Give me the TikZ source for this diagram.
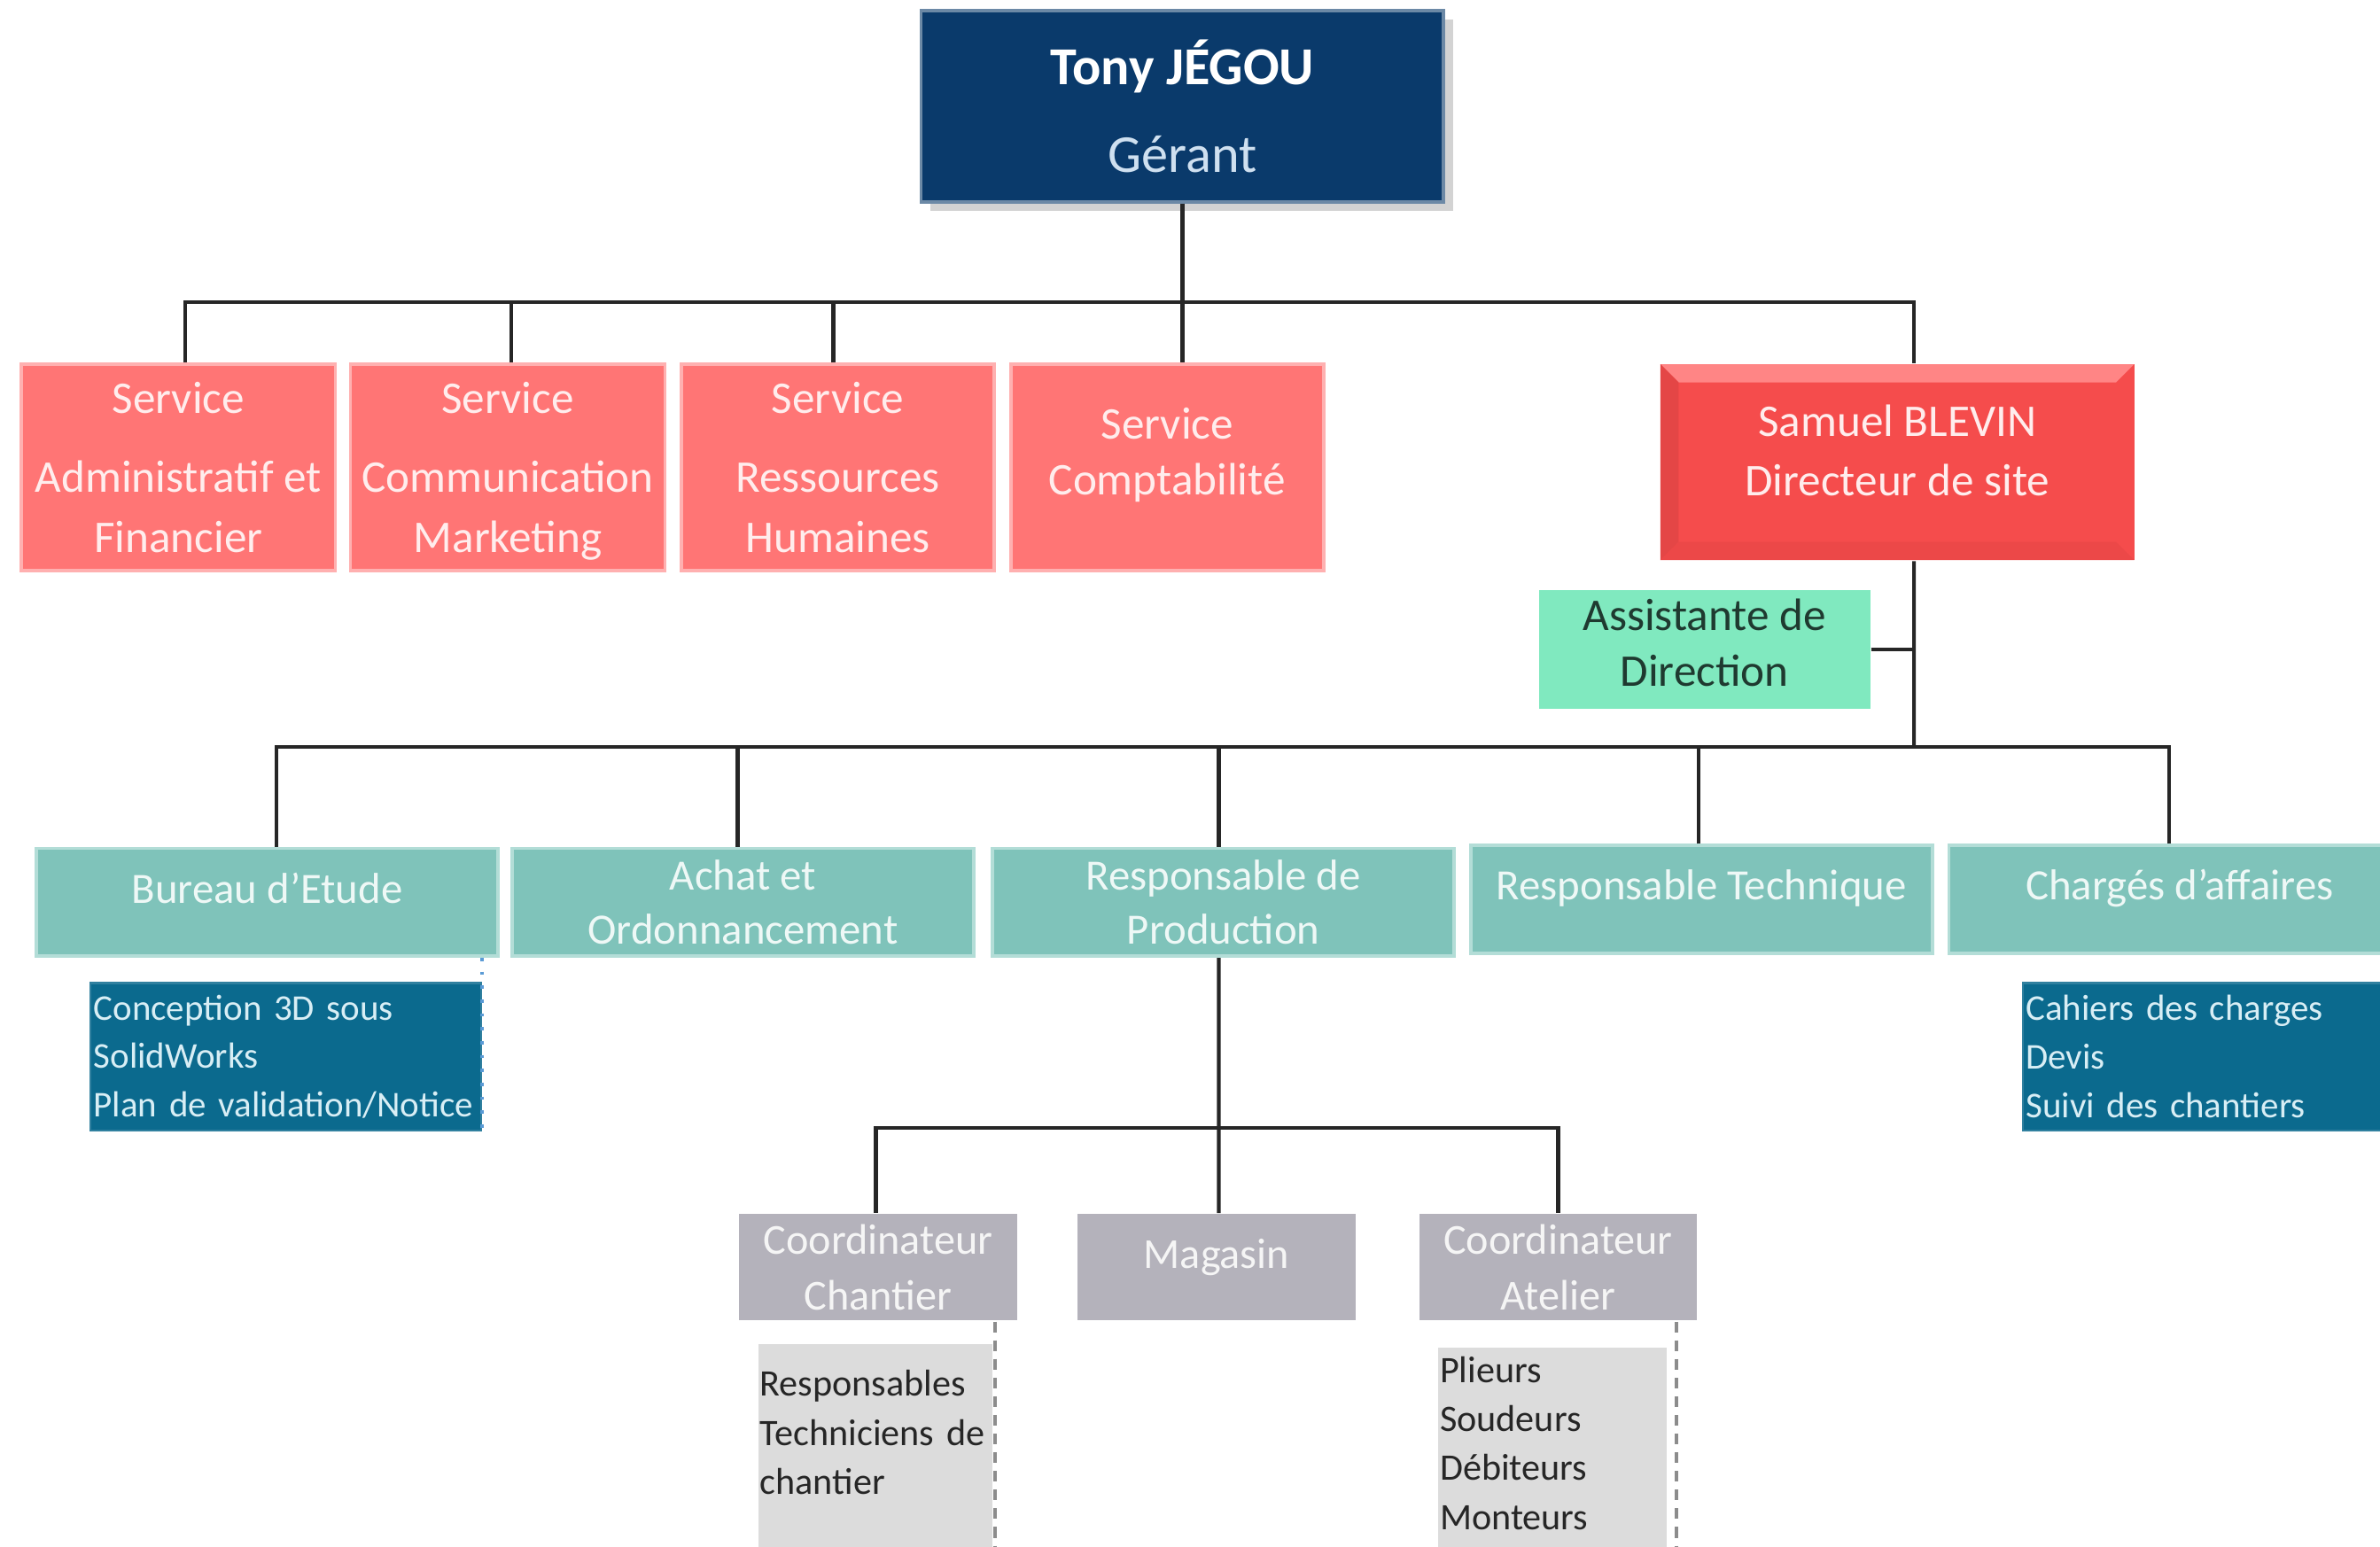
\documentclass[tikz,border=0pt]{standalone}
\usepackage{fontspec}
\setmainfont{Carlito}
\usetikzlibrary{shadows}

\definecolor{navy}{HTML}{0A3A6B}
\definecolor{gerant}{HTML}{CFE0F0}
\definecolor{salmon}{HTML}{FF7575}
\definecolor{salmonrim}{HTML}{FFB0B0}
\definecolor{salmontxt}{HTML}{FFEDED}
\definecolor{redbox}{HTML}{F54C4C}
\definecolor{redtop}{HTML}{FF8585}
\definecolor{redside}{HTML}{E44646}
\definecolor{redlow}{HTML}{EC4848}
\definecolor{mint}{HTML}{80E9BF}
\definecolor{minttxt}{HTML}{1F3A30}
\definecolor{tealbox}{HTML}{7FC3BA}
\definecolor{tealrim}{HTML}{B3DDD7}
\definecolor{tealtxt}{HTML}{EEF8F6}
\definecolor{petrol}{HTML}{0B6A8E}
\definecolor{petroltxt}{HTML}{D8EEF5}
\definecolor{greybox}{HTML}{B4B2BB}
\definecolor{greytxt}{HTML}{F5F5F5}
\definecolor{listgrey}{HTML}{DCDCDC}
\definecolor{dotblue}{HTML}{5B9BD5}

\tikzset{
  link/.style={line width=0.7pt, draw=black!85},
  box/.style={inner sep=0pt, align=center},
  raisetext/.style={execute at end node={\rule[-#1]{0pt}{#1}}},
  boss/.style={box, fill=navy, draw=navy!60!white, line width=0.6pt, text=white,
    font=\fontsize{10}{16.5}\selectfont, minimum width=3.44cm, minimum height=1.26cm,
    drop shadow={shadow xshift=0.06cm, shadow yshift=-0.06cm, opacity=0.35}},
  service/.style={box, fill=salmon, draw=salmonrim, line width=0.6pt, text=salmontxt,
    font=\fontsize{8.5}{11.4}\selectfont, minimum width=2.07cm, minimum height=1.36cm},
  director/.style={box, fill=redbox, text=salmontxt, font=\fontsize{8.5}{11.1}\selectfont,
    minimum width=3.12cm, minimum height=1.29cm,
    path picture={
      \fill[redtop] (path picture bounding box.north west) -- (path picture bounding box.north east)
        -- ([shift={(-0.12cm,-0.12cm)}]path picture bounding box.north east)
        -- ([shift={(0.12cm,-0.12cm)}]path picture bounding box.north west) -- cycle;
      \fill[redside] (path picture bounding box.north west) -- ([shift={(0.12cm,-0.12cm)}]path picture bounding box.north west)
        -- ([shift={(0.12cm,0.12cm)}]path picture bounding box.south west) -- (path picture bounding box.south west) -- cycle;
      \fill[redlow] (path picture bounding box.south west) -- ([shift={(0.12cm,0.12cm)}]path picture bounding box.south west)
        -- ([shift={(-0.12cm,0.12cm)}]path picture bounding box.south east) -- (path picture bounding box.south east) -- cycle;
    }},
  assistbox/.style={box, fill=mint, text=minttxt, font=\fontsize{8.5}{10.5}\selectfont,
    minimum width=2.18cm, minimum height=0.78cm},
  dept/.style={box, fill=tealbox, draw=tealrim, line width=0.6pt, text=tealtxt,
    font=\fontsize{8.1}{10.2}\selectfont, minimum width=3.04cm, minimum height=0.71cm},
  tasks/.style={inner xsep=0.02cm, inner ysep=0pt, align=left, fill=petrol, draw=petrol!85!white,
    text=petroltxt, font=\fontsize{6.8}{9.1}\selectfont, minimum height=0.97cm, anchor=north west},
  team/.style={box, fill=greybox, text=greytxt, font=\fontsize{8}{10.5}\selectfont,
    minimum width=1.83cm, minimum height=0.70cm},
  staff/.style={inner xsep=0.01cm, inner ysep=0pt, align=left, fill=listgrey, text=black!85,
    font=\fontsize{7}{9.2}\selectfont, minimum height=1.55cm, anchor=north west},
  blueguide/.style={draw=dotblue, line width=0.6pt, dotted},
  greyguide/.style={draw=black!45, line width=0.6pt, dash pattern=on 2pt off 1.5pt}
}

\begin{document}
\begin{tikzpicture}[x=0.01cm, y=-0.01cm]

\useasboundingbox (0,0) rectangle (1568,1019);
\clip (0,0) rectangle (1568,1019);

% direction
\node[boss] (tony) at (779,70) {\textbf{Tony JÉGOU}\\{\color{gerant}Gérant}};

\node[service] (saf) at (117.5,308) {Service\\[3.4pt]Administratif et\\Financier};
\node[service] (scm) at (334.5,308) {Service\\[3.4pt]Communication\\Marketin\smash{g}};
\node[service, minimum width=2.06cm] (srh) at (552,308) {Service\\[3.4pt]Ressources\\Humaines};
\node[service, minimum width=2.06cm, font=\fontsize{8.5}{10.5}\selectfont, raisetext=0.21cm] (scpt) at (769,308) {Service\\Comptabilité};

\node[director, raisetext=0.16cm] (samuel) at (1250,304.5) {Samuel BLEVIN\\Directeur de site};
\node[assistbox, raisetext=0.09cm] (assist) at (1123,428) {Assistante de\\Direction};

% services du site
\node[dept, raisetext=0.19cm] (be) at (176,594.5) {Bureau d’Etude};
\node[dept] (ao) at (489.5,594.5) {Achat et\\Ordonnancement};
\node[dept] (rp) at (806,594.5) {Responsable de\\Production};
\node[dept, raisetext=0.19cm] (rt) at (1121,592.5) {Responsable Technique};
\node[dept, raisetext=0.19cm] (ca) at (1436,592.5) {Chargés d’affaires};

\node[tasks, text width=2.53cm] (belist) at (59,647) {Conception 3D sous\\SolidWorks\\\mbox{Plan de validation/Notice}};
\node[tasks, text width=2.6cm] (calist) at (1332,647) {Cahiers des charges\\Devis\\Suivi des chantiers};

% production
\node[team] (cc) at (578.5,835) {Coordinateur\\Chantier};
\node[team, raisetext=0.18cm] (mag) at (801.5,835) {Magasin};
\node[team] (cat) at (1026.5,835) {Coordinateur\\Atelier};

\node[staff, text width=1.52cm, raisetext=0.39cm] (cclist) at (499,885) {Responsables\\Techniciens de\\chantier};
\node[staff, text width=1.48cm, raisetext=0.29cm] (catlist) at (947,887) {Plieurs\\Soudeurs\\Débiteurs\\Monteurs};

% liaisons
\coordinate (busA) at (780,199);
\coordinate (busB) at (1261,492);
\coordinate (busC) at (803,743);

\draw[link] (tony.south) -- (tony.south |- scpt.north);
\draw[link] ([xshift=0.045cm]saf.north) |- (busA) -| ([xshift=0.11cm]samuel.north);
\draw[link] ([xshift=0.025cm]scm.north) -- ([xshift=0.025cm]scm.north |- busA);
\draw[link] ([xshift=-0.03cm]srh.north) -- ([xshift=-0.03cm]srh.north |- busA);

\draw[link] ([xshift=0.11cm]samuel.south) -- (busB);
\draw[link] (assist.east) -- (assist.east -| busB);
\draw[link] ([xshift=0.06cm]be.north) |- (busB) -| ([xshift=-0.07cm]ca.north);
\draw[link] ([xshift=-0.035cm]ao.north) -- ([xshift=-0.035cm]ao.north |- busB);
\draw[link] ([xshift=-0.03cm]rp.north) -- ([xshift=-0.03cm]rp.north |- busB);
\draw[link] ([xshift=-0.02cm]rt.north) -- ([xshift=-0.02cm]rt.north |- busB);

\draw[link] ([xshift=-0.03cm]rp.south) -- ([xshift=0.015cm]mag.north);
\draw[link] ([xshift=-0.015cm]cc.north) |- (busC) -| (cat.north);

\draw[blueguide] (belist.east |- be.south) -- (belist.south east);
\draw[greyguide] ([xshift=0.01cm]cclist.east |- cc.south) -- ([xshift=0.01cm]cclist.south east);
\draw[greyguide] ([xshift=0.06cm]catlist.east |- cat.south) -- ([xshift=0.06cm]catlist.south east);

\end{tikzpicture}
\end{document}
